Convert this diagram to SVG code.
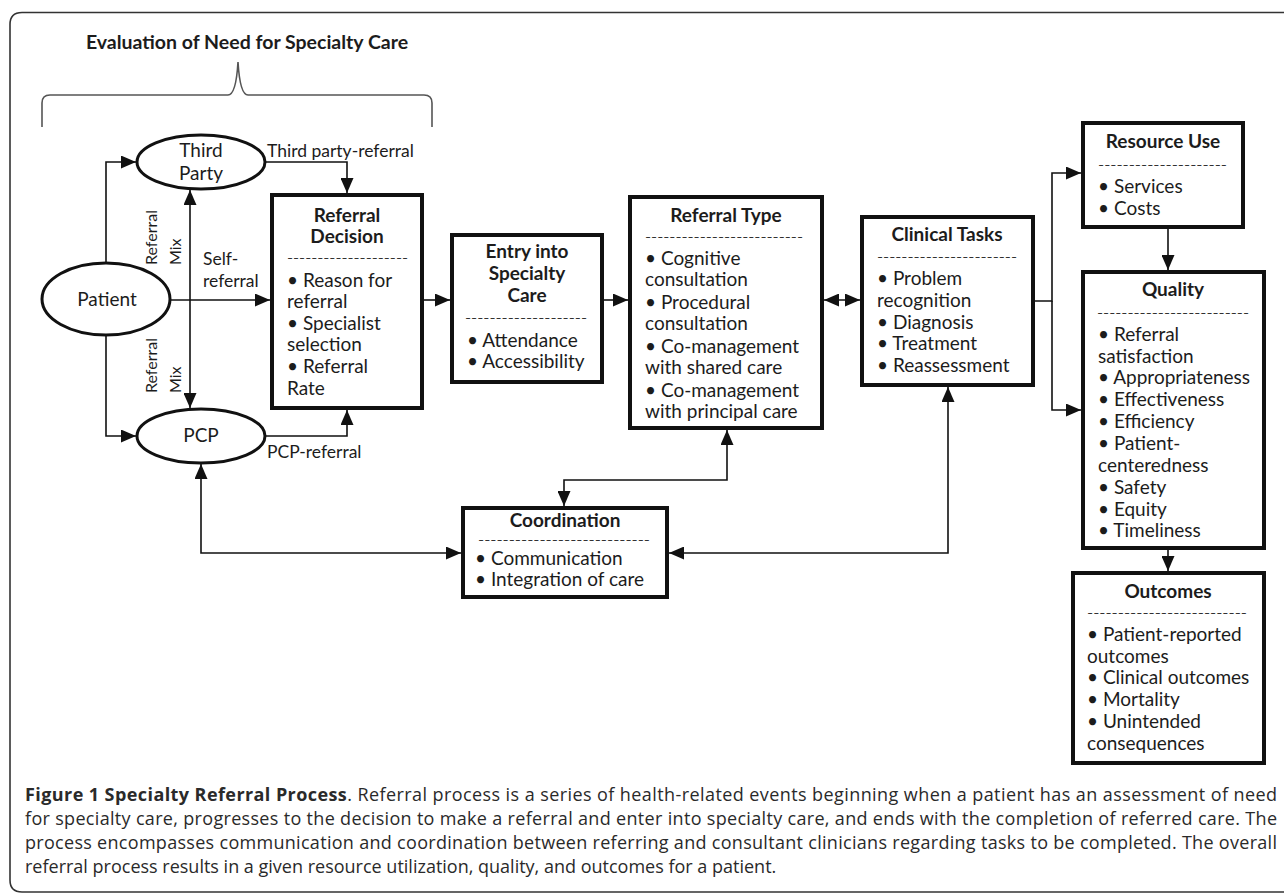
<svg xmlns="http://www.w3.org/2000/svg" width="1284" height="893" viewBox="0 0 1284 893">
<style>
.box{fill:#fff;stroke:#111;stroke-width:4}
.ell{fill:#fff;stroke:#111;stroke-width:3}
.t{font-family:Lato,"Open Sans","Liberation Sans",sans-serif;font-size:19px;fill:#1c1c1c}
.h{font-weight:bold;text-anchor:middle}
.c{text-anchor:middle}
.d{font-size:12px}
.lbl{font-size:17.5px}
.rm{font-size:16px}
.con{fill:none;stroke:#111;stroke-width:1.6}
.cap{font-family:"Open Sans","Liberation Sans",sans-serif;font-size:18px;fill:#2a2a2a}
</style>
<defs>
<marker id="ah" viewBox="0 0 15 13" refX="15" refY="6.5" markerWidth="15" markerHeight="13" markerUnits="userSpaceOnUse" orient="auto-start-reverse"><path d="M0,0 L15,6.5 L0,13 z" fill="#111"/></marker>
</defs>
<rect width="1284" height="893" fill="#fff"/>
<path d="M1290,12.5 H22 Q10,12.5 10,24.5 V880 Q10,892 22,892 H1290" fill="none" stroke="#333" stroke-width="1.6"/>

<g id="brace">
<text class="t h" x="247" y="49" style="font-size:19.5px">Evaluation of Need for Specialty Care</text>
<path d="M42,127 V103 Q42,95 50,95 H228 Q236,95 238,62 Q240,95 248,95 H424 Q432,95 432,103 V127" fill="none" stroke="#555" stroke-width="1.6"/>
</g>

<g id="connectors">
<path class="con" d="M106,263 V162 H136" marker-end="url(#ah)"/>
<path class="con" d="M106,335 V436 H136" marker-end="url(#ah)"/>
<path class="con" d="M190,190 V408" marker-start="url(#ah)" marker-end="url(#ah)"/>
<path class="con" d="M170,300 H270" marker-end="url(#ah)"/>
<path class="con" d="M265,162 H347 V193" marker-end="url(#ah)"/>
<path class="con" d="M265,436 H347 V410" marker-end="url(#ah)"/>
<path class="con" d="M424,300 H450" marker-end="url(#ah)"/>
<path class="con" d="M604,300 H628" marker-end="url(#ah)"/>
<path class="con" d="M824,300 H860" marker-start="url(#ah)" marker-end="url(#ah)"/>
<path class="con" d="M1035,301 H1052 V173 H1081" marker-end="url(#ah)"/>
<path class="con" d="M1052,301 V410 H1081" marker-end="url(#ah)"/>
<path class="con" d="M1168,229 V270" marker-end="url(#ah)"/>
<path class="con" d="M1168,550 V571" marker-end="url(#ah)"/>
<path class="con" d="M727,430 V480 H564 V506" marker-start="url(#ah)" marker-end="url(#ah)"/>
<path class="con" d="M201,464 V553 H461" marker-start="url(#ah)" marker-end="url(#ah)"/>
<path class="con" d="M948,387 V553 H669" marker-start="url(#ah)" marker-end="url(#ah)"/>
<text class="t lbl" x="267" y="157">Third party-referral</text>
<text class="t lbl" x="267" y="458">PCP-referral</text>
<text class="t lbl" x="203" y="265">Self-</text>
<text class="t lbl" x="203" y="287">referral</text>
<text class="t rm" transform="translate(157,265) rotate(-90)">Referral</text>
<text class="t rm" transform="translate(181,265) rotate(-90)">Mix</text>
<text class="t rm" transform="translate(157,393) rotate(-90)">Referral</text>
<text class="t rm" transform="translate(181,393) rotate(-90)">Mix</text>
</g>

<g id="third-party">
<ellipse class="ell" cx="201" cy="162" rx="64" ry="27"/>
<text class="t c" x="201" y="157">Third</text>
<text class="t c" x="201" y="180">Party</text>
</g>

<g id="patient">
<ellipse class="ell" cx="106" cy="299" rx="64" ry="36"/>
<text class="t c" x="107" y="306">Patient</text>
</g>

<g id="pcp">
<ellipse class="ell" cx="201" cy="436" rx="64" ry="27"/>
<text class="t c" x="201" y="442">PCP</text>
</g>

<g id="referral-decision">
<rect class="box" x="272" y="195" width="150" height="213"/>
<text class="t h" x="347" y="222">Referral</text>
<text class="t h" x="347" y="243">Decision</text>
<text class="t d" x="287" y="262" textLength="121" lengthAdjust="spacingAndGlyphs">--------------------</text>
<text class="t" x="287" y="287">• Reason for</text>
<text class="t" x="287" y="308">referral</text>
<text class="t" x="287" y="330">• Specialist</text>
<text class="t" x="287" y="351">selection</text>
<text class="t" x="287" y="373">• Referral</text>
<text class="t" x="287" y="395">Rate</text>
</g>

<g id="entry">
<rect class="box" x="452" y="235" width="150" height="147"/>
<text class="t h" x="527" y="258">Entry into</text>
<text class="t h" x="527" y="280">Specialty</text>
<text class="t h" x="527" y="302">Care</text>
<text class="t d" x="465" y="322" textLength="122" lengthAdjust="spacingAndGlyphs">--------------------</text>
<text class="t" x="467" y="347">• Attendance</text>
<text class="t" x="467" y="368">• Accessibility</text>
</g>

<g id="referral-type">
<rect class="box" x="630" y="197" width="192" height="231"/>
<text class="t h" x="726" y="222">Referral Type</text>
<text class="t d" x="645" y="241" textLength="158" lengthAdjust="spacingAndGlyphs">--------------------------</text>
<text class="t" x="645" y="265">• Cognitive</text>
<text class="t" x="645" y="286">consultation</text>
<text class="t" x="645" y="309">• Procedural</text>
<text class="t" x="645" y="330">consultation</text>
<text class="t" x="645" y="353">• Co-management</text>
<text class="t" x="645" y="374">with shared care</text>
<text class="t" x="645" y="397">• Co-management</text>
<text class="t" x="645" y="418">with principal care</text>
</g>

<g id="clinical-tasks">
<rect class="box" x="862" y="217" width="171" height="168"/>
<text class="t h" x="947" y="241">Clinical Tasks</text>
<text class="t d" x="877" y="261" textLength="140" lengthAdjust="spacingAndGlyphs">-----------------------</text>
<text class="t" x="877" y="285">• Problem</text>
<text class="t" x="877" y="307">recognition</text>
<text class="t" x="877" y="329">• Diagnosis</text>
<text class="t" x="877" y="350">• Treatment</text>
<text class="t" x="877" y="372">• Reassessment</text>
</g>

<g id="resource-use">
<rect class="box" x="1083" y="123" width="160" height="104"/>
<text class="t h" x="1163" y="148">Resource Use</text>
<text class="t d" x="1098" y="169" textLength="129" lengthAdjust="spacingAndGlyphs">---------------------</text>
<text class="t" x="1098" y="193">• Services</text>
<text class="t" x="1098" y="215">• Costs</text>
</g>

<g id="quality">
<rect class="box" x="1083" y="272" width="181" height="276"/>
<text class="t h" x="1173" y="296">Quality</text>
<text class="t d" x="1097" y="317" textLength="152" lengthAdjust="spacingAndGlyphs">-------------------------</text>
<text class="t" x="1098" y="341">• Referral</text>
<text class="t" x="1098" y="363">satisfaction</text>
<text class="t" x="1098" y="384">• Appropriateness</text>
<text class="t" x="1098" y="406">• Effectiveness</text>
<text class="t" x="1098" y="428">• Efficiency</text>
<text class="t" x="1098" y="450">• Patient-</text>
<text class="t" x="1098" y="472">centeredness</text>
<text class="t" x="1098" y="494">• Safety</text>
<text class="t" x="1098" y="516">• Equity</text>
<text class="t" x="1098" y="537">• Timeliness</text>
</g>

<g id="outcomes">
<rect class="box" x="1073" y="573" width="191" height="190"/>
<text class="t h" x="1168" y="598">Outcomes</text>
<text class="t d" x="1087" y="617" textLength="160" lengthAdjust="spacingAndGlyphs">--------------------------</text>
<text class="t" x="1087" y="641">• Patient-reported</text>
<text class="t" x="1087" y="663">outcomes</text>
<text class="t" x="1087" y="684">• Clinical outcomes</text>
<text class="t" x="1087" y="706">• Mortality</text>
<text class="t" x="1087" y="728">• Unintended</text>
<text class="t" x="1087" y="750">consequences</text>
</g>

<g id="coordination">
<rect class="box" x="463" y="508" width="204" height="89"/>
<text class="t h" x="565" y="527">Coordination</text>
<text class="t d" x="478" y="544" textLength="172" lengthAdjust="spacingAndGlyphs">----------------------------</text>
<text class="t" x="475" y="565">• Communication</text>
<text class="t" x="475" y="586">• Integration of care</text>
</g>

<g id="caption">
<text class="cap" x="25" y="801" textLength="1252" lengthAdjust="spacing"><tspan font-weight="bold">Figure 1 Specialty Referral Process</tspan>. Referral process is a series of health-related events beginning when a patient has an assessment of need</text>
<text class="cap" x="25" y="825" textLength="1252" lengthAdjust="spacing">for specialty care, progresses to the decision to make a referral and enter into specialty care, and ends with the completion of referred care. The</text>
<text class="cap" x="25" y="849" textLength="1252" lengthAdjust="spacing">process encompasses communication and coordination between referring and consultant clinicians regarding tasks to be completed. The overall</text>
<text class="cap" x="25" y="873">referral process results in a given resource utilization, quality, and outcomes for a patient.</text>
</g>
</svg>
